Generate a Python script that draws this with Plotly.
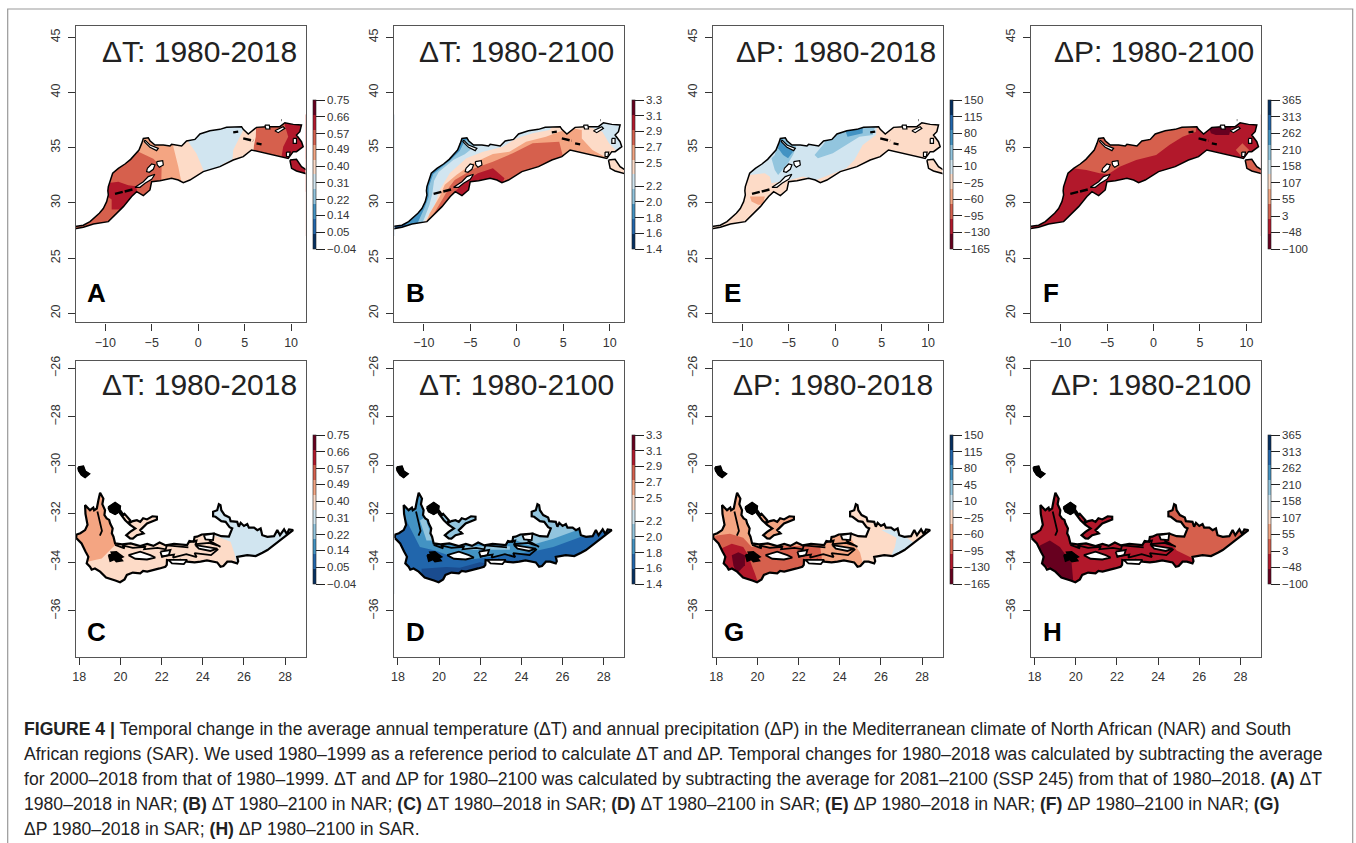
import plotly.graph_objects as go

W, H = 1356, 843

# palette (RdBu classes)
C1, C2, C3, C4, C5 = "#67001F", "#B2182B", "#D6604D", "#F4A582", "#FDDBC7"
C6, C7, C8, C9, C10 = "#D1E5F0", "#92C5DE", "#4393C3", "#2166AC", "#053061"
C9D = "#1A4C8F"

# ---------- North Africa outlines (lon, lat) ----------
NAR_LON = [-13.4,-12.36,-11.64,-11.10,-10.64,-10.21,-9.85,-9.67,-9.72,-9.67,-9.38,-9.20,-8.59,-7.88,-7.27,-6.80,-6.37,-6.08,-5.90,-5.37,-5.19,-4.65,-3.75,-3.04,-2.86,-1.78,-1.25,-0.35,0.19,1.26,2.34,3.06,4.67,4.85,5.39,6.28,7.36,8.79,9.33,10.23,11.12,10.94,10.58,11.12,11.30,10.58,10.23,9.69,8.79,7.36,5.74,4.85,3.77,2.34,0.55,-0.89,-1.60,-2.14,-2.86,-4.11,-5.01,-5.19,-5.90,-6.62,-7.16,-8.05,-9.31,-9.67,-11.28,-12.36,-13.4]
NAR_LAT = [27.85,27.97,28.30,28.70,29.06,29.48,30.11,30.72,31.1,31.47,32.22,32.68,33.13,33.52,33.94,34.34,34.79,35.39,35.84,35.90,35.63,35.24,35.24,35.15,35.30,35.15,35.60,35.75,36.24,36.54,36.66,36.84,36.90,36.66,36.24,36.84,36.90,36.90,37.26,37.11,37.05,36.45,36.15,35.54,35.09,34.64,34.64,34.03,34.19,34.49,34.79,34.19,33.88,33.28,32.83,32.07,31.83,32.07,32.22,32.01,31.92,31.17,30.66,31.02,30.57,29.66,28.60,28.30,28.09,27.79,27.64]
LIB_LON = [9.87,10.58,11.12,11.8,11.8,10.58,10.05]
LIB_LAT = [33.88,33.94,33.28,32.9,32.6,32.89,33.13]
NAR_OUTER = [(NAR_LON, NAR_LAT), (LIB_LON, LIB_LAT)]
NAR_HOLES = [
    ([-5.72,-5.19,-4.29,-4.47,-5.19,-5.80], [35.69,35.24,34.94,34.73,35.03,35.54]),
    ([-5.47,-5.01,-4.65,-4.83,-5.26,-5.55], [33.13,33.52,33.43,33.04,32.77,32.83]),
    ([-4.47,-3.82,-3.75,-4.18,-4.40], [33.73,33.82,33.43,33.22,33.43]),
    ([-4.65,-5.37,-5.90,-6.44,-6.80,-6.26,-5.72,-5.01], [32.59,32.38,31.92,31.62,31.41,31.41,31.77,32.13]),
    ([8.25,9.15,9.33,8.61], [36.54,36.90,36.75,36.36]),
    ([7.18,7.65,7.72,7.29], [37.05,37.05,36.69,36.69]),
    ([10.23,10.58,10.58,10.23], [35.84,35.84,35.39,35.39]),
    ([9.5,9.9,9.8,9.5], [34.6,34.6,34.2,34.2]),
]
NAR_DASHES = [
    ([-8.95,-8.05,-6.98], [30.81,31.02,31.23]),
    ([3.77,4.31], [36.39,36.45]),
    ([4.85,5.92], [35.84,35.63]),
    ([6.28,6.82], [35.39,35.30]),
    ([8.97,9.02], [37.5,37.5]),
]

# ---------- South Africa outlines (lon, lat) ----------
SAR_LON = [17.84,17.87,18.05,18.28,18.40,18.36,18.30,18.28,18.42,18.52,18.68,18.72,18.85,18.88,18.93,19.01,19.10,19.17,19.12,19.25,19.22,19.33,19.45,19.50,19.62,19.58,19.66,19.74,20.07,20.5,20.96,21.3,21.6,21.9,22.2,22.6,23.24,23.35,23.56,23.6,23.72,23.95,24.54,24.9,25.27,25.43,25.3,25.11,24.9,24.62,24.5,24.50,24.7,24.78,24.86,24.9,25.06,25.3,25.35,25.67,25.75,25.84,26.0,26.16,26.24,26.49,26.65,26.81,26.89,27.14,27.46,27.62,27.75,27.95,28.08,28.19,28.39,27.79,27.14,26.9,26.57,26.16,25.67,25.72,25.67,25.4,25.19,25.0,24.86,24.7,24.54,24.2,23.89,23.6,23.24,22.91,22.6,22.26,22.25,22.18,21.9,21.61,21.3,21.1,20.96,20.6,20.31,20.2,19.98,19.75,19.50,19.3,19.01,18.76,18.6,18.52,18.36,18.44,18.3,18.11,17.87]
SAR_LAT = [-33.0,-32.85,-32.8,-32.67,-32.45,-32.26,-32.0,-31.64,-31.75,-31.85,-31.74,-31.85,-31.78,-31.55,-31.43,-31.13,-31.28,-31.37,-31.6,-31.85,-32.05,-32.19,-32.25,-32.40,-32.6,-32.8,-32.94,-33.22,-33.26,-33.22,-33.33,-33.24,-33.32,-33.18,-33.3,-33.24,-33.29,-33.12,-33.15,-32.95,-32.94,-32.85,-32.81,-32.92,-32.94,-32.60,-32.55,-32.33,-32.3,-32.12,-32.1,-31.91,-31.85,-31.6,-31.64,-31.85,-32.05,-32.15,-32.3,-32.33,-32.53,-32.37,-32.5,-32.42,-32.57,-32.57,-32.67,-32.6,-32.88,-32.95,-32.92,-32.67,-32.88,-32.64,-32.83,-32.64,-32.67,-33.08,-33.49,-33.6,-33.74,-33.70,-33.77,-33.95,-34.04,-33.97,-33.97,-34.15,-34.18,-34.0,-33.97,-33.92,-33.97,-34.0,-33.97,-33.90,-33.95,-33.90,-34.1,-34.18,-34.25,-34.32,-34.38,-34.35,-34.45,-34.42,-34.52,-34.7,-34.82,-34.75,-34.66,-34.62,-34.38,-34.25,-34.3,-34.18,-34.04,-33.77,-33.55,-33.22,-33.01]
ISLE1_LON = [17.95,18.19,18.28,18.47,18.28,18.11,17.98]
ISLE1_LAT = [-30.08,-30.05,-30.25,-30.35,-30.49,-30.39,-30.22]
ISLE2_LON = [19.41,19.74,19.98,19.95,19.74,19.50]
ISLE2_LAT = [-31.73,-31.55,-31.69,-31.90,-32.01,-31.90]
CHAIN_LON = [19.98,20.15,20.2,20.47,20.39,20.6,20.80,20.96,21.1,21.29,21.55,21.77,21.77,21.5,21.29,20.96,21.12,20.80,20.6,20.47,20.28,20.47,20.72,20.47,20.23,19.98]
CHAIN_LAT = [-31.85,-32.05,-32.0,-32.26,-32.40,-32.3,-32.26,-32.33,-32.18,-32.23,-32.1,-32.12,-32.23,-32.32,-32.40,-32.67,-32.81,-32.88,-33.02,-33.01,-32.88,-32.74,-32.60,-32.46,-32.26,-31.98]
SAR_OUTER = [(SAR_LON, SAR_LAT), (ISLE1_LON, ISLE1_LAT), (ISLE2_LON, ISLE2_LAT), (CHAIN_LON, CHAIN_LAT)]
SAR_HOLES = [
    ([20.39,20.96,21.45,21.69,21.29,20.72], [-33.70,-33.56,-33.70,-33.80,-33.88,-33.85]),
    ([21.94,22.43,22.35,22.02], [-33.56,-33.49,-33.70,-33.77]),
    ([23.64,24.21,24.70,24.37,23.81], [-33.29,-33.36,-33.43,-33.53,-33.43]),
    ([24.05,24.54,24.50,24.13], [-32.88,-32.81,-33.08,-33.05]),
    ([22.34,23.24,23.08,22.50], [-33.90,-33.90,-34.07,-34.04]),
]
SAR_BLOBS = [
    ([19.42,19.6,19.55,19.8,19.95,20.13,20.0,20.1,19.8,19.7,19.5], [-33.70,-33.66,-33.58,-33.56,-33.66,-33.77,-33.82,-33.93,-33.97,-33.88,-33.95]),
    (ISLE1_LON, ISLE1_LAT),
    (ISLE2_LON, ISLE2_LAT),
]
SAR_RIDGES = [
    ([19.74,20.2,20.1,20.6,21.2,21.15,21.8,22.2,22.25,23.3], [-33.28,-33.42,-33.30,-33.40,-33.36,-33.46,-33.40,-33.46,-33.30,-33.38]),
    ([22.0,22.6,22.55,23.2,23.7,23.6,24.4,24.75], [-33.75,-33.68,-33.80,-33.66,-33.78,-33.62,-33.70,-33.45]),
    ([23.3,23.7,23.65,24.3,24.7,24.3,24.86], [-33.18,-33.10,-33.25,-33.2,-33.3,-33.1,-33.36]),
    ([18.88,18.98,19.1,19.0], [-31.9,-32.3,-32.7,-32.9]),
]

# ---------- Panel A zones ----------
A_BASE = C3
A1_LON = [-6.37,-6.37,-4.83,-3.93,-4.0,11.54,11.54]
A1_LAT = [38,34.6,34.0,33.28,31,31,38]
A2_LON = [-2.68,-2.68,-2.14,-1.60,11.54,11.54]
A2_LAT = [38,35.1,33.28,31,31,38]
A3_LON = [-1.07,-1.07,-0.2,0.55,0.7,2.3,2.6,3.7,3.77,4.85,4.85]
A3_LAT = [38,35.54,34.5,33.0,32,32,33.5,33.95,34.8,36.6,38]
A4_LON = [6.28,6.2,6.0,5.9,11.54,11.54]
A4_LAT = [38,36.0,35.2,34.0,34,38]
A5_LON = [9.33,9.33,9.69,9.15,8.97,9.3,11.54,11.54]
A5_LAT = [38,37,36,35.09,34.2,31,31,38]
A6_LON = [-10.5,-8.59,-7.52,-6.7,-6.5,-7.0,-8.2,-9.31,-9.31,-9.8,-10.5]
A6_LAT = [31.7,31.92,31.6,31.5,30.9,30,29.4,29.4,30.3,30.6,30.6]

# ---------- Panel B zones ----------
B_BASE = C9
B1_LON = [-12.4,-11.6,-11.0,-11.0,11.54,11.54,-12.4]
B1_LAT = [27.5,28.4,29.0,38,38,27,27]
B2_LON = [-11.0,-10.5,-9.9,-9.5,-9.45,-9.0,-7.1,-6.15,-5.6,-5.0,-5.0,11.54,11.54,-11.0]
B2_LAT = [27.56,28.5,29.6,30.5,31.5,32.6,33.9,34.7,35.6,35.9,38,38,27,27]
B3_LON = [-10.6,-10.0,-9.4,-9.1,-8.9,-8.4,-6.8,-5.6,-4.7,-4.0,-3.29,-3.29,11.54,11.54,-10.6]
B3_LAT = [27.56,28.5,29.8,30.8,32.0,32.8,33.9,34.4,35.0,35.4,36.0,38,38,27,27]
B4_LON = [-10.43,-9.72,-8.82,-8.29,-7.22,-5.43,-3.64,-1.50,-0.07,1.71,3.50,4.21,4.21,11.54,11.54,-10.43]
B4_LAT = [27.56,28.61,29.82,31.17,32.68,34.04,34.64,35.09,35.84,36.30,36.60,37.20,38,38,27,27]
B5_LON = [-10.07,-9.36,-8.29,-7.75,-6.50,-4.72,-2.57,-0.79,1.0,3.14,4.57,6.0,7.0,7.0,8.14,9.75,9.93,9.93,-10.07]
B5_LAT = [27.56,29.07,30.57,31.63,32.53,33.58,34.43,34.64,35.54,35.99,36.45,36.75,36.60,35.84,34.79,34.04,32.08,27,27]
B6_LON = [-10,-9.54,-7.93,-7.22,-6.68,-4.54,-2.57,-0.43,1.71,4.57,4.93,5,-10]
B6_LAT = [27,28.16,30.42,31.48,32.08,33.13,33.73,34.49,35.39,35.54,34.34,27,27]
B7_LON = [-6.86,-5.07,-4.18,-2.57,-1.32,-1.86,-4.72,-5.43,-6.5]
B7_LAT = [30.87,32.23,32.68,33.13,32.23,31.2,31.2,30.2,30.2]
B8_LON = [7.78,7.78,9.21,9.93,10.82,11.54,11.54]
B8_LAT = [37.65,36.90,36.45,35.39,34.64,34.64,37.65]

# ---------- Panel E zones ----------
E_BASE = C5
E1_LON = [-10,-10,4.6,4.39,2.96,2.07,1.18,-2.04,-3.47,-4.89,-6.86,-7.04,-7.57,-9.18]
E1_LAT = [32.5,38,38,36.14,35.24,33.89,33.13,32.08,32.38,32.08,31.78,32.38,32.68,32.53]
E2_LON = [-6.86,-6.5,-5.96,-4.18,-4.54,-5.07,-6.14,-6.5]
E2_LAT = [34.04,34.34,36.3,35.09,34.34,33.58,32.53,32.98]
E3_LON = [-2.22,-1.32,-0.96,0.82,4.39,4.04,2.61,1.18,-0.25,-1.86]
E3_LAT = [34.34,35.24,35.69,36.8,37.2,36.14,35.99,35.24,34.49,34.04]
E4_LON = [-5.96,-5.07,-4.54,-5.07,-5.61,-6.14]
E4_LAT = [36.0,35.24,34.64,34.04,34.34,34.94]
E5_LON = [0.98,2.96,2.96,1.33]
E5_LAT = [36.8,36.9,36.3,36.0]
E6_LON = [-9.18,-7.57,-7.75,-8.29,-9.0]
E6_LAT = [30.57,30.57,29.82,29.82,30.12]

# ---------- Panel F zones ----------
F_BASE = C2
F1_LON = [-10,-8.64,-7.22,-5.79,-4.89,-3.64,-1.86,0.29,1.71,3.14,4.57,4.6,-10]
F1_LAT = [33.0,33.13,32.98,32.68,32.6,33.28,33.89,34.34,35.24,35.99,36.45,38,38]
F2_LON = [6.0,7.07,8.5,8.14,6.71,6.18]
F2_LAT = [36.75,37.4,37.3,36.14,36.14,36.30]
F3_LON = [9.5,10.8,11.54,11.54,9.5]
F3_LAT = [34,34.0,33.2,32,32]
F4_LON = [8.86,9.57,10.29,9.57]
F4_LAT = [34.8,35.4,34.8,34.1]

# ---------- Panel C zones ----------
C_BASE = C5
C1_LON = [17.84,18.4,18.76,19.09,19.58,19.85,19.85,17.84]
C1_LAT = [-34.0,-33.97,-33.90,-33.84,-33.42,-33.2,-30.8,-30.8]
C2_LON = [24.54,24.54,25.35,25.54,25.67,28.9,28.9,24.3,24.3]
C2_LAT = [-32.7,-32.88,-33.15,-33.63,-34.2,-34.2,-31,-31,-32.7]

# ---------- Panel D zones ----------
D_BASE = C9
D1_LON = [18.0,18.1,18.26,18.58,19.07,19.80,21.17,22.47,24.41,25.55,26.84,28.9,28.9]
D1_LAT = [-30,-31.7,-32.0,-32.55,-33.37,-33.51,-33.92,-33.78,-33.58,-33.37,-32.96,-32.5,-30]
D2_LON = [23.52,24.41,25.55,26.68,28.46,28.46,23.52]
D2_LAT = [-33.03,-33.3,-33.03,-32.68,-32.41,-30.77,-30.77]
D3_LON = [19.88,21.82,21.82,19.88]
D3_LAT = [-31.86,-31.86,-33.1,-33.1]
D4_LON = [19.07,19.31,19.72,19.39]
D4_LAT = [-32.27,-32.14,-33.10,-33.10]
D5_LON = [21.17,23.44,23.44,21.17]
D5_LAT = [-33.34,-33.34,-33.48,-33.48]
D6_LON = [19.15,20.36,21.01,21.98,22.31,21.98,20.04,19.15]
D6_LAT = [-34.26,-34.19,-34.22,-33.99,-34.05,-34.60,-35.01,-34.88]

# ---------- Panel G zones ----------
G_BASE = C4
G1_LON = [17.84,18.02,18.66,19.31,19.72,23.04,23.12,23.2,17.84]
G1_LAT = [-32.99,-32.89,-32.82,-32.99,-33.37,-33.3,-33.78,-35.15,-35.15]
G2_LON = [18.02,18.75,19.31,19.55,19.72,19.88,20.04,19.15,18.18]
G2_LAT = [-33.51,-33.23,-33.37,-33.71,-34.12,-34.47,-34.88,-34.88,-34.05]
G3_LON = [18.75,19.07,19.39,19.39,18.99,18.83]
G3_LAT = [-33.71,-33.58,-33.71,-34.12,-34.47,-34.12]
G4_LON = [24.33,24.33,24.74,24.98,25.14,28.54,28.54]
G4_LAT = [-30.77,-32.68,-33.3,-33.58,-34.12,-34.12,-30.77]
G5_LON = [26.03,26.76,26.68,26.44,27.89,27.25,26.6]
G5_LAT = [-32.68,-32.99,-33.37,-33.85,-33.37,-32.99,-32.62]

# ---------- Panel H zones ----------
H_BASE = C2
H1_LON = [18.26,18.74,19.23,19.8,19.88,19.39,18.42,18.18]
H1_LAT = [-33.3,-33.1,-33.37,-34.05,-34.81,-34.74,-34.05,-33.64]
H2_LON = [24.41,24.9,25.55,25.87,28.62,28.62,24.41]
H2_LAT = [-32.96,-33.51,-33.78,-33.92,-33.92,-30.77,-30.77]

# ---------- Colour bar ticks ----------
TICKS_T1 = [0.75,0.66,0.57,0.49,0.40,0.31,0.22,0.14,0.05,-0.04]
LABELS_T1 = ["0.75","0.66","0.57","0.49","0.40","0.31","0.22","0.14","0.05","\u22120.04"]
TICKS_T2 = [3.3,3.1,2.9,2.7,2.5,2.2,2.0,1.8,1.6,1.4]
LABELS_T2 = ["3.3","3.1","2.9","2.7","2.5","2.2","2.0","1.8","1.6","1.4"]
TICKS_P1 = [150,115,80,45,10,-25,-60,-95,-130,-165]
LABELS_P1 = ["150","115","80","45","10","\u221225","\u221260","\u221295","\u2212130","\u2212165"]
TICKS_P2 = [365,313,262,210,158,107,55,3,-48,-100]
LABELS_P2 = ["365","313","262","210","158","107","55","3","\u221248","\u2212100"]

TITLES = ["\u0394T: 1980-2018","\u0394T: 1980-2100","\u0394P: 1980-2018","\u0394P: 1980-2100"]
LETTERS = ["A","B","E","F","C","D","G","H"]
CAPTION = [
 "<b>FIGURE 4 |</b> Temporal change in the average annual temperature (\u0394T) and annual precipitation (\u0394P) in the Mediterranean climate of North African (NAR) and South",
 "African regions (SAR). We used 1980\u20131999 as a reference period to calculate \u0394T and \u0394P. Temporal changes for 1980\u20132018 was calculated by subtracting the average",
 "for 2000\u20132018 from that of 1980\u20131999. \u0394T and \u0394P for 1980\u20132100 was calculated by subtracting the average for 2081\u20132100 (SSP 245) from that of 1980\u20132018. <b>(A)</b> \u0394T",
 "1980\u20132018 in NAR; <b>(B)</b> \u0394T 1980\u20132100 in NAR; <b>(C)</b> \u0394T 1980\u20132018 in SAR; <b>(D)</b> \u0394T 1980\u20132100 in SAR; <b>(E)</b> \u0394P 1980\u20132018 in NAR; <b>(F)</b> \u0394P 1980\u20132100 in NAR; <b>(G)</b>",
 "\u0394P 1980\u20132018 in SAR; <b>(H)</b> \u0394P 1980\u20132100 in SAR.",
]

# ---------- Layout (pixels) ----------
LEFTS = [75.7, 394.3, 712.7, 1031.0]
PW = 229.8
ROWS = [(25.7, 322.3), (361.0, 657.0)]
NAR_XR, NAR_YR = [-13.18, 11.55], [19.18, 46.05]
SAR_XR, SAR_YR = [17.825, 28.99], [-37.9, -25.70]
NAR_BOX = ([-13.16, 11.54, 11.54, -13.16], [27, 27, 38, 38])
SAR_BOX = ([17.84, 28.9, 28.9, 17.84], [-35.3, -35.3, -29.8, -29.8])
TITLE_RIGHT = [[299, 616, 938, 1256], [299, 616, 935, 1253]]
TITLE_Y = [51, 384]
LETTER_Y = [293, 632]
CB_TOP = [100, 435]
CB_LEN = 148.5

def swatches(colors):
    n = len(colors)
    out = []
    for i, c in enumerate(colors):
        out += [[i / n, c], [(i + 1) / n, c]]
    return out
SCALE_T = swatches([C10, C9, C8, C7, C6, C5, C4, C3, C2, C1])
SCALE_P = swatches([C1, C2, C3, C4, C5, C6, C7, C8, C9, C10])

ZONES = {
 "A": (A_BASE, [(C4,A1_LON,A1_LAT),(C5,A2_LON,A2_LAT),(C6,A3_LON,A3_LAT),(C3,A4_LON,A4_LAT),(C2,A5_LON,A5_LAT),(C2,A6_LON,A6_LAT)]),
 "B": (B_BASE, [(C8,B1_LON,B1_LAT),(C7,B2_LON,B2_LAT),(C6,B3_LON,B3_LAT),(C5,B4_LON,B4_LAT),(C4,B5_LON,B5_LAT),(C3,B6_LON,B6_LAT),(C2,B7_LON,B7_LAT),(C6,B8_LON,B8_LAT)]),
 "E": (E_BASE, [(C6,E1_LON,E1_LAT),(C7,E2_LON,E2_LAT),(C7,E3_LON,E3_LAT),(C8,E4_LON,E4_LAT),(C8,E5_LON,E5_LAT),(C4,E6_LON,E6_LAT)]),
 "F": (F_BASE, [(C3,F1_LON,F1_LAT),(C1,F2_LON,F2_LAT),(C3,F3_LON,F3_LAT),(C3,F4_LON,F4_LAT)]),
 "C": (C_BASE, [(C4,C1_LON,C1_LAT),(C6,C2_LON,C2_LAT)]),
 "D": (D_BASE, [(C8,D1_LON,D1_LAT),(C7,D2_LON,D2_LAT),(C7,D3_LON,D3_LAT),(C7,D4_LON,D4_LAT),(C7,D5_LON,D5_LAT),(C9D,D6_LON,D6_LAT)]),
 "G": (G_BASE, [(C3,G1_LON,G1_LAT),(C2,G2_LON,G2_LAT),(C1,G3_LON,G3_LAT),(C5,G4_LON,G4_LAT),(C6,G5_LON,G5_LAT)]),
 "H": (H_BASE, [(C1,H1_LON,H1_LAT),(C3,H2_LON,H2_LAT)]),
}
BARS = [(TICKS_T1,LABELS_T1,SCALE_T),(TICKS_T2,LABELS_T2,SCALE_T),(TICKS_P1,LABELS_P1,SCALE_P),(TICKS_P2,LABELS_P2,SCALE_P)]

def keyhole(box, rings):
    """White cover of the zones' box with the region's rings left open."""
    x0, x1 = min(box[0]) - 0.5, max(box[0]) + 0.5
    y0, y1 = min(box[1]) - 0.5, max(box[1]) + 0.5
    xs, ys = [x0, x1, x1, x0, x0], [y0, y0, y1, y1, y0]   # anticlockwise
    for lon, lat in rings:
        n = len(lon)
        area = sum(lon[i] * lat[(i + 1) % n] - lon[(i + 1) % n] * lat[i] for i in range(n))
        rlon, rlat = (list(lon), list(lat)) if area < 0 else (list(lon)[::-1], list(lat)[::-1])
        xs += rlon + [rlon[0], x0]
        ys += rlat + [rlat[0], y0]
    return xs, ys

fig = go.Figure()
layout = {}
ann = []
FS = dict(hoverinfo="skip", showlegend=False)
TICKFONT = dict(size=12.5, color="#333", family="Liberation Sans")

for r in range(2):
    for c in range(4):
        i = r * 4 + c + 1
        name = LETTERS[i - 1]
        xa, ya = f"x{i}", f"y{i}"
        left, (top, bottom) = LEFTS[c], ROWS[r]
        xr, yr = (NAR_XR, NAR_YR) if r == 0 else (SAR_XR, SAR_YR)
        box = NAR_BOX if r == 0 else SAR_BOX
        outer = NAR_OUTER if r == 0 else SAR_OUTER
        holes = NAR_HOLES if r == 0 else SAR_HOLES
        lw = 1.5 if r == 0 else 2.2

        layout[f"xaxis{i}"] = dict(domain=[left / W, (left + PW) / W], range=xr, anchor=ya,
            showgrid=False, zeroline=False, showline=True, mirror=True, linecolor="#555", linewidth=1.4,
            ticks="outside", ticklen=7, tickwidth=1, tickcolor="#333", dtick=5 if r == 0 else 2,
            tick0=0, tickfont=TICKFONT, ticklabelstandoff=1)
        layout[f"yaxis{i}"] = dict(domain=[1 - bottom / H, 1 - top / H], range=yr, anchor=xa,
            showgrid=False, zeroline=False, showline=True, mirror=True, linecolor="#555", linewidth=1.4,
            ticks="outside", ticklen=7, tickwidth=1, tickcolor="#333", dtick=5 if r == 0 else 2,
            tick0=0, tickangle=-90, tickfont=TICKFONT, ticklabelstandoff=3)

        base, zones = ZONES[name]
        fig.add_trace(go.Scatter(x=box[0], y=box[1], fill="toself", fillcolor=base, mode="none", xaxis=xa, yaxis=ya, **FS))
        for col, lon, lat in zones:
            fig.add_trace(go.Scatter(x=lon, y=lat, fill="toself", fillcolor=col, mode="none", xaxis=xa, yaxis=ya, **FS))
        mx, my = keyhole(box, outer)
        fig.add_trace(go.Scatter(x=mx, y=my, fill="toself", fillcolor="white", mode="lines",
            line=dict(color="white", width=0, simplify=False), xaxis=xa, yaxis=ya, **FS))
        for lon, lat in outer:
            fig.add_trace(go.Scatter(x=lon + lon[:1], y=lat + lat[:1], mode="lines",
                line=dict(color="black", width=lw), xaxis=xa, yaxis=ya, **FS))
        for lon, lat in holes:
            fig.add_trace(go.Scatter(x=lon + lon[:1], y=lat + lat[:1], mode="lines", fill="toself", fillcolor="white",
                line=dict(color="black", width=1.2 if r == 0 else 1.8), xaxis=xa, yaxis=ya, **FS))
        if r == 0:
            for lon, lat in NAR_DASHES:
                fig.add_trace(go.Scatter(x=lon, y=lat, mode="lines",
                    line=dict(color="black", width=2.4, dash="8px,2px"), xaxis=xa, yaxis=ya, **FS))
        else:
            for lon, lat in SAR_BLOBS:
                fig.add_trace(go.Scatter(x=lon + lon[:1], y=lat + lat[:1], mode="lines", fill="toself", fillcolor="black",
                    line=dict(color="black", width=1.5), xaxis=xa, yaxis=ya, **FS))
            for lon, lat in SAR_RIDGES:
                fig.add_trace(go.Scatter(x=lon, y=lat, mode="lines",
                    line=dict(color="black", width=1.8), xaxis=xa, yaxis=ya, **FS))

        tv, tt, scale = BARS[c]
        fig.add_trace(go.Scatter(x=[None], y=[None], mode="markers", xaxis=xa, yaxis=ya, hoverinfo="skip", showlegend=False,
            marker=dict(color=[tv[-1]], opacity=0, cmin=tv[-1], cmax=tv[0], colorscale=scale, showscale=True,
                colorbar=dict(x=(left + PW + 7.6) / W, xanchor="left", xpad=0, ypad=0,
                    y=1 - CB_TOP[r] / H, yanchor="top", lenmode="pixels", len=CB_LEN,
                    thickness=3, thicknessmode="pixels", outlinewidth=0.6, outlinecolor="#222",
                    ticks="outside", ticklen=9, tickwidth=1, tickcolor="#222",
                    tickvals=tv, ticktext=tt, tickmode="array", tickfont=dict(size=11.5, color="#333", family="Liberation Sans")))))

        ann.append(dict(text=TITLES[c], x=TITLE_RIGHT[r][c] / W, y=1 - TITLE_Y[r] / H, xref="paper", yref="paper",
            xanchor="right", yanchor="middle", showarrow=False,
            font=dict(size=30, color="#222", family="Liberation Sans")))
        ann.append(dict(text=f"<b>{name}</b>", x=(left + 9.5) / W, y=1 - LETTER_Y[r] / H, xref="paper", yref="paper",
            xanchor="left", yanchor="middle", showarrow=False,
            font=dict(size=26, color="black", family="Liberation Sans")))

CAPTION_Y = [729, 754, 779, 804, 829]
for line, yy in zip(CAPTION, CAPTION_Y):
    ann.append(dict(text=line, x=22 / W, y=1 - yy / H, xref="paper", yref="paper", xanchor="left", yanchor="middle",
        showarrow=False, font=dict(size=17.6, color="#222", family="Liberation Sans")))

page_frame = dict(type="path", xref="paper", yref="paper",
    path=f"M {7.7/W} 0 L {7.7/W} {1-9/H} L {1352.7/W} {1-9/H} L {1352.7/W} 0",
    line=dict(color="#999", width=1.2))

fig.update_layout(width=W, height=H, margin=dict(l=0, r=0, t=0, b=0, autoexpand=False),
    paper_bgcolor="white", plot_bgcolor="white", annotations=ann, shapes=[page_frame], **layout)
fig.write_html("out.html", post_script="document.body.style.margin='0';document.body.style.overflow='hidden';",
    config=dict(displayModeBar=False))
